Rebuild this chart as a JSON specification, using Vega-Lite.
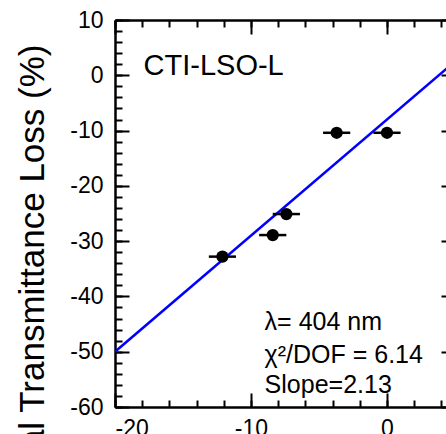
{
  "$schema": "https://vega.github.io/schema/vega-lite/v6.json",
  "autosize": "none",
  "width": 331,
  "height": 387,
  "padding": {"left": 115, "top": 20, "right": 0, "bottom": 27},
  "background": "white",
  "config": {
    "view": {"stroke": null},
    "axis": {
      "grid": false,
      "domainColor": "black",
      "domainWidth": 2.5,
      "tickColor": "black",
      "tickWidth": 2,
      "labelFont": "Liberation Sans",
      "labelFontSize": 23,
      "labelColor": "black",
      "titleFont": "Liberation Sans",
      "titleColor": "black",
      "titleFontWeight": "normal"
    }
  },
  "datasets": {
    "fit": [
      {"x": -20, "y": -50.0},
      {"x": 5, "y": 2.5}
    ],
    "points": [
      {"x": -12.1, "y": -32.8, "xlo": -13.1, "xhi": -11.1},
      {"x": -8.4, "y": -28.9, "xlo": -9.4, "xhi": -7.4},
      {"x": -7.4, "y": -25.1, "xlo": -8.4, "xhi": -6.4},
      {"x": -3.7, "y": -10.4, "xlo": -4.7, "xhi": -2.7},
      {"x": 0.0, "y": -10.4, "xlo": -1.0, "xhi": 1.0}
    ],
    "notes": [
      {"x": -17.9, "y": 0.0, "label": "CTI-LSO-L", "size": "big"},
      {"x": -9.0, "y": -46.1, "label": "λ= 404 nm", "size": "small"},
      {"x": -9.0, "y": -52.0, "label": "χ²/DOF = 6.14", "size": "small"},
      {"x": -9.0, "y": -57.5, "label": "Slope=2.13", "size": "small"}
    ]
  },
  "layer": [
    {
      "data": {"name": "fit"},
      "mark": {"type": "line", "color": "#0000ff", "strokeWidth": 2.5, "clip": true},
      "encoding": {
        "x": {
          "field": "x", "type": "quantitative",
          "scale": {"domain": [-20, 4.34], "nice": false, "zero": false},
          "axis": {
            "orient": "bottom", "values": [-20, -10, 0], "tickSize": -14,
            "labelPadding": 24, "title": null, "labelExpr": "'' + datum.value"
          }
        },
        "y": {
          "field": "y", "type": "quantitative",
          "scale": {"domain": [-60, 10], "nice": false, "zero": false},
          "axis": {
            "orient": "left", "values": [-60, -50, -40, -30, -20, -10, 0, 10], "tickSize": -14,
            "labelPadding": 26, "labelExpr": "'' + datum.value",
            "title": "Longitudinal Transmittance Loss (%)",
            "titleFontSize": 35, "titleAngle": -90, "titleAlign": "right",
            "titleBaseline": "alphabetic", "titleX": -72, "titleY": 24
          }
        }
      }
    },
    {
      "data": {"name": "points"},
      "mark": {"type": "rule", "color": "black", "strokeWidth": 2.5},
      "encoding": {
        "x": {
          "field": "xlo", "type": "quantitative",
          "scale": {"domain": [-20, 4.34], "nice": false, "zero": false},
          "axis": {
            "orient": "bottom", "values": [-20, -18, -16, -14, -12, -10, -8, -6, -4, -2, 0, 2, 4],
            "tickSize": -7, "labels": false, "domain": false, "title": null
          }
        },
        "x2": {"field": "xhi"},
        "y": {
          "field": "y", "type": "quantitative",
          "scale": {"domain": [-60, 10], "nice": false, "zero": false},
          "axis": {
            "orient": "left",
            "values": [-60, -58, -56, -54, -52, -50, -48, -46, -44, -42, -40, -38, -36, -34, -32, -30, -28, -26, -24, -22, -20, -18, -16, -14, -12, -10, -8, -6, -4, -2, 0, 2, 4, 6, 8, 10],
            "tickSize": -7, "labels": false, "domain": false, "title": null
          }
        }
      }
    },
    {
      "data": {"name": "points"},
      "mark": {"type": "point", "filled": true, "color": "black", "opacity": 1, "size": 150},
      "encoding": {
        "x": {
          "field": "x", "type": "quantitative",
          "scale": {"domain": [-20, 4.34], "nice": false, "zero": false},
          "axis": {
            "orient": "top", "values": [-20, -10, 0], "tickSize": -14,
            "labels": false, "title": null
          }
        },
        "y": {
          "field": "y", "type": "quantitative",
          "scale": {"domain": [-60, 10], "nice": false, "zero": false},
          "axis": {
            "orient": "right", "values": [-60, -50, -40, -30, -20, -10, 0, 10], "tickSize": -14,
            "labels": false, "domain": false, "title": null, "offset": 9
          }
        }
      }
    },
    {
      "data": {"name": "notes"},
      "mark": {"type": "text", "align": "left", "baseline": "alphabetic", "font": "Liberation Sans", "color": "black"},
      "encoding": {
        "x": {
          "field": "x", "type": "quantitative",
          "scale": {"domain": [-20, 4.34], "nice": false, "zero": false},
          "axis": {
            "orient": "top", "values": [-20, -18, -16, -14, -12, -10, -8, -6, -4, -2, 0, 2, 4],
            "tickSize": -7, "labels": false, "domain": false, "title": null
          }
        },
        "y": {
          "field": "y", "type": "quantitative",
          "scale": {"domain": [-60, 10], "nice": false, "zero": false},
          "axis": {
            "orient": "right",
            "values": [-60, -58, -56, -54, -52, -50, -48, -46, -44, -42, -40, -38, -36, -34, -32, -30, -28, -26, -24, -22, -20, -18, -16, -14, -12, -10, -8, -6, -4, -2, 0, 2, 4, 6, 8, 10],
            "tickSize": -7, "labels": false, "domain": false, "title": null, "offset": 9
          }
        },
        "text": {"field": "label"},
        "size": {
          "field": "size", "type": "nominal",
          "scale": {"domain": ["big", "small"], "range": [29, 25]},
          "legend": null
        }
      }
    }
  ],
  "resolve": {"axis": {"x": "independent", "y": "independent"}}
}
